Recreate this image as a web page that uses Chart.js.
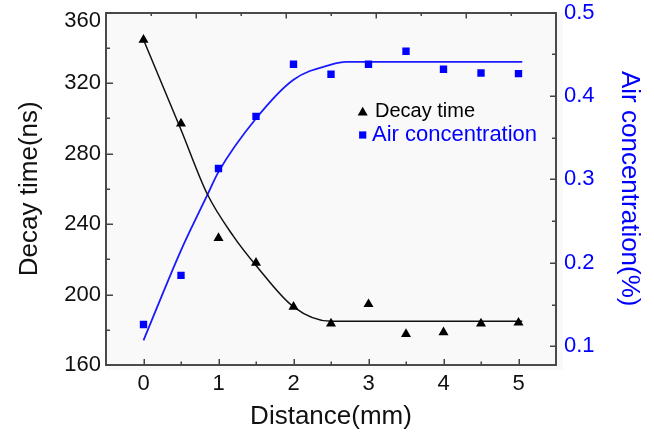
<!DOCTYPE html>
<html><head><meta charset="utf-8">
<script src="https://cdn.jsdelivr.net/npm/chart.js@4/dist/chart.umd.min.js"></script>
<style>html,body{margin:0;padding:0;background:#fff}canvas{display:block}</style>
</head><body>
<canvas id="c" width="654" height="434"></canvas>
<script>
// ---- data ----
const distance   = [0, 0.5, 1, 1.5, 2, 2.5, 3, 3.5, 4, 4.5, 5];
const decayTime  = [344.5, 297, 232, 218, 193, 183.5, 194.5, 177.5, 178.5, 183.5, 184];
const airConc    = [0.126, 0.185, 0.313, 0.3755, 0.438, 0.426, 0.438, 0.4535, 0.432, 0.4275, 0.4267];
// fitted curves
const decayFitX  = [0, 0.5, 0.85, 1.2, 1.5, 2, 2.5, 5.05];
const decayFitY  = [344.5, 293.5, 257, 233, 216.5, 193, 184.8, 184.8];
const airFitX    = [0, 0.5, 0.85, 1, 1.5, 2, 2.5, 2.7, 5.05];
const airFitY    = [0.107, 0.215, 0.281, 0.309, 0.373, 0.4195, 0.4375, 0.4408, 0.4408];
// axis ticks
const xTicks     = [0, 1, 2, 3, 4, 5];
const xMinor     = [0.5, 1.5, 2.5, 3.5, 4.5];
const leftTicks  = [160, 200, 240, 280, 320, 360];
const leftMinor  = [180, 220, 260, 300, 340];
const rightTicks = [0.1, 0.2, 0.3, 0.4, 0.5];
const rightMinor = [0.15, 0.25, 0.35, 0.45];
const topTicks   = [1, 2, 3, 4];
const topMinor   = [0.5, 1.5, 2.5, 3.5, 4.5];
const seriesNames = ['Decay time', 'Air concentration'];
const axisTitles = {x: 'Distance(mm)', y: 'Decay time(ns)', y2: 'Air concentration(%)'};

const FONT = '"Liberation Sans", Arial, Helvetica, sans-serif';
const BLUE = '#0000ff';
const toXY = (xs, ys) => xs.map((x, i) => ({x, y: ys[i]}));

const bgPlugin = {
  id: 'bg',
  beforeDraw(chart) {
    const {ctx, chartArea: a} = chart;
    ctx.save();
    ctx.fillStyle = '#fff';
    ctx.fillRect(0, 0, chart.width, chart.height);
    ctx.fillStyle = '#f9f9f9';
    ctx.fillRect(a.left, a.top, a.right - a.left + 7, a.bottom - a.top + 5);
    ctx.restore();
  }
};

const tickPlugin = {
  id: 'tickMarks',
  afterDraw(chart) {
    const {ctx, chartArea: a, scales: s} = chart;
    ctx.save();
    ctx.strokeStyle = '#444';
    ctx.lineWidth = 1.5;
    const horiz = (scale, vals, y0, dir, len) => vals.forEach(v => {
      const x = Math.round(scale.getPixelForValue(v)) + 0.25;
      ctx.beginPath(); ctx.moveTo(x, y0); ctx.lineTo(x, y0 + dir * len); ctx.stroke();
    });
    const vert = (scale, vals, x0, dir, len) => vals.forEach(v => {
      const y = Math.round(scale.getPixelForValue(v)) + 0.25;
      ctx.beginPath(); ctx.moveTo(x0, y); ctx.lineTo(x0 + dir * len, y); ctx.stroke();
    });
    horiz(s.x, xTicks, a.bottom, -1, 6);
    horiz(s.x, xMinor, a.bottom, -1, 3.5);
    horiz(s.x2, topTicks, a.top, 1, 6);
    horiz(s.x2, topMinor, a.top, 1, 3.5);
    vert(s.y, leftTicks, a.left, 1, 7);
    vert(s.y, leftMinor, a.left, 1, 4);
    vert(s.y2, rightTicks, a.right, -1, 6);
    vert(s.y2, rightMinor, a.right, -1, 4);
    ctx.restore();
  }
};

const legendPlugin = {
  id: 'customLegend',
  afterDraw(chart) {
    const ctx = chart.ctx;
    ctx.save();
    const tx = 362.7, ty = 112.5, r = 5.8;
    ctx.fillStyle = '#000';
    ctx.beginPath();
    ctx.moveTo(tx, ty - r);
    ctx.lineTo(tx + r * Math.sin(Math.PI * 2 / 3), ty + r / 2);
    ctx.lineTo(tx - r * Math.sin(Math.PI * 2 / 3), ty + r / 2);
    ctx.closePath(); ctx.fill();
    ctx.font = '20px ' + FONT;
    ctx.textBaseline = 'alphabetic';
    ctx.fillText(seriesNames[0], 375, 117);
    ctx.fillStyle = BLUE;
    ctx.fillRect(362.7 - 3.6, 135 - 3.6, 7.2, 7.2);
    ctx.font = '22px ' + FONT;
    ctx.fillText(seriesNames[1], 372, 140.5);
    ctx.restore();
  }
};

const setTicks = vals => scale => { scale.ticks = vals.map(v => ({value: v})); };
const noVPad = w => s => { s.width = w; s.paddingTop = 0; s.paddingBottom = 0; };

new Chart(document.getElementById('c'), {
  type: 'scatter',
  data: {
    datasets: [
      {label: seriesNames[0], data: toXY(distance, decayTime), yAxisID: 'y', xAxisID: 'x',
       pointStyle: 'triangle', pointRadius: 5.8, pointBackgroundColor: '#000', pointBorderWidth: 0, showLine: false},
      {label: seriesNames[1], data: toXY(distance, airConc), yAxisID: 'y2', xAxisID: 'x',
       pointStyle: 'rect', pointRadius: 5.2, pointBackgroundColor: BLUE, pointBorderWidth: 0, showLine: false},
      {label: 'fit1', data: toXY(decayFitX, decayFitY), yAxisID: 'y', xAxisID: 'x',
       showLine: true, pointRadius: 0, borderColor: '#111', borderWidth: 1.5, cubicInterpolationMode: 'monotone', fill: false},
      {label: 'fit2', data: toXY(airFitX, airFitY), yAxisID: 'y2', xAxisID: 'x',
       showLine: true, pointRadius: 0, borderColor: '#1a1aff', borderWidth: 1.8, cubicInterpolationMode: 'monotone', fill: false}
    ]
  },
  options: {
    responsive: false,
    animation: false,
    devicePixelRatio: 1,
    layout: {padding: 0},
    plugins: {legend: {display: false}, tooltip: {enabled: false}},
    scales: {
      x: {
        type: 'linear', position: 'bottom', min: -0.5, max: 5.5,
        afterBuildTicks: setTicks(xTicks),
        afterFit: s => { s.height = 69; },
        grid: {display: false, drawTicks: false},
        border: {display: true, color: '#4a4a4a', width: 2},
        ticks: {color: '#111', font: {family: FONT, size: 22}, padding: 6, maxRotation: 0},
        title: {display: true, text: axisTitles.x, color: '#111', font: {family: FONT, size: 26}, padding: {top: 0, bottom: 2}}
      },
      x2: {
        type: 'linear', position: 'top', min: 0, max: 5,
        afterFit: s => { s.height = 12.5; },
        grid: {display: false, drawTicks: false},
        border: {display: true, color: '#4a4a4a', width: 2},
        ticks: {display: false}
      },
      y: {
        type: 'linear', position: 'left', min: 160, max: 360,
        afterBuildTicks: setTicks(leftTicks),
        afterFit: noVPad(106),
        grid: {display: false, drawTicks: false},
        border: {display: true, color: '#4a4a4a', width: 2},
        ticks: {color: '#111', font: {family: FONT, size: 22, lineHeight: 0.75}, padding: 5,
                callback: v => v === leftTicks[leftTicks.length - 1] ? ['', String(v)] : String(v)},
        title: {display: true, text: axisTitles.y, color: '#111', font: {family: FONT, size: 26}, padding: {top: 14, bottom: 0}}
      },
      y2: {
        type: 'linear', position: 'right', min: 0.0775, max: 0.5,
        afterBuildTicks: setTicks(rightTicks),
        afterFit: noVPad(98),
        grid: {display: false, drawTicks: false},
        border: {display: true, color: '#4a4a4a', width: 2},
        ticks: {color: BLUE, font: {family: FONT, size: 22}, padding: 8, callback: v => v.toFixed(1)},
        title: {display: true, text: axisTitles.y2, color: BLUE, font: {family: FONT, size: 26}, padding: {top: 9, bottom: 0}}
      }
    }
  },
  plugins: [bgPlugin, tickPlugin, legendPlugin]
});
</script>
</body></html>
